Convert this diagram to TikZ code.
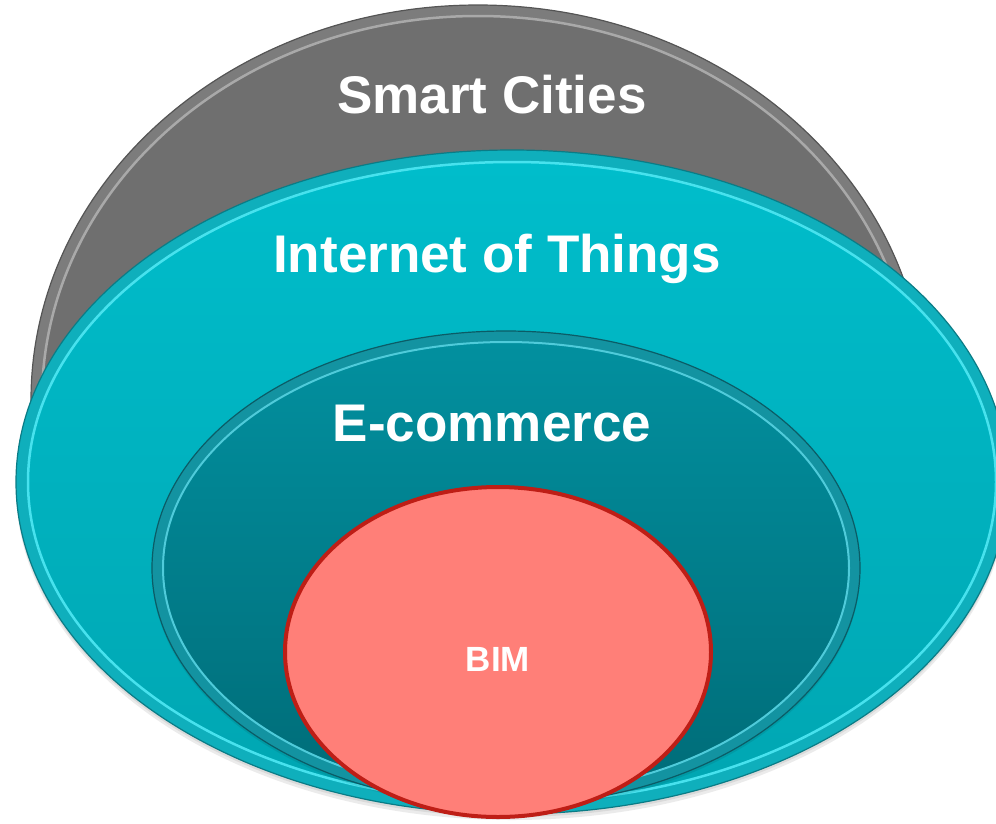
\documentclass[tikz,border=0pt]{standalone}
\usepackage{fontspec}
\setmainfont{Liberation Sans}
\usetikzlibrary{shapes.geometric}
\definecolor{grayband}{HTML}{7C7C7C}
\definecolor{grayedge}{HTML}{555555}
\definecolor{grayhi}{HTML}{A9A9A9}
\definecolor{grayfill}{HTML}{6F6F6F}
\definecolor{tealband}{HTML}{0FAFBC}
\definecolor{tealedge}{HTML}{0A7C86}
\definecolor{tealhi}{HTML}{47E2EE}
\definecolor{tealtop}{HTML}{00BDCB}
\definecolor{tealbot}{HTML}{00A6B2}
\definecolor{dkband}{HTML}{1393A1}
\definecolor{dkedge}{HTML}{0B5C66}
\definecolor{dkhi}{HTML}{4FCBDA}
\definecolor{dktop}{HTML}{02909F}
\definecolor{dkbot}{HTML}{006C78}
\definecolor{bimfill}{HTML}{FF7F78}
\definecolor{bimedge}{HTML}{BE1E16}
\begin{document}
\begin{tikzpicture}[x=1pt,y=-1pt,
  oval/.style 2 args={ellipse, inner sep=0pt, minimum width=#1, minimum height=#2},
  lbl/.style={text=white, font=\bfseries\fontsize{53}{60}\selectfont, anchor=base},
  shadowoval/.style={fill=black, opacity=0.08}]
\useasboundingbox (0,0) rectangle (996,823);
\clip (0,0) rectangle (996,823);
% Smart Cities
\node[oval={894pt}{790pt}, fill=grayband, draw=grayedge, line width=1.2pt] (scout) at (478,400) {};
\node[oval={872pt}{768pt}, fill=grayfill, draw=grayhi, line width=2.5pt] (scin) at (478,400) {};
% shadow of IoT
\node[oval={992pt}{664pt}, shadowoval] (iotsh1) at (512,488) {};
\node[oval={992pt}{664pt}, shadowoval] (iotsh2) at (512,485) {};
% Internet of Things
\node[oval={992pt}{664pt}, fill=tealband, draw=tealedge, line width=1.2pt] (iotout) at (512,482) {};
\node[oval={968pt}{640pt}, top color=tealtop, bottom color=tealbot, draw=tealhi, line width=2.5pt] (iotin) at (512,482) {};
% E-commerce
\node[oval={708pt}{474pt}, shadowoval] (ecsh) at (506,571) {};
\node[oval={708pt}{474pt}, fill=dkband, draw=dkedge, line width=1.2pt] (ecout) at (506,568) {};
\node[oval={686pt}{452pt}, top color=dktop, bottom color=dkbot, draw=dkhi, line width=2pt] (ecin) at (506,568) {};
% BIM
\node[oval={426pt}{330pt}, fill=bimfill, draw=bimedge, line width=4pt] (bim) at (498,652) {};
% labels
\node[lbl] (tsc) at (492,113) {Smart Cities};
\node[lbl] (tiot) at (497,272) {Internet of Things};
\node[lbl] (tec) at (492,441) {E-commerce};
\node[lbl, font=\bfseries\fontsize{35}{40}\selectfont] (tbim) at (498,671) {BIM};
\end{tikzpicture}
\end{document}
